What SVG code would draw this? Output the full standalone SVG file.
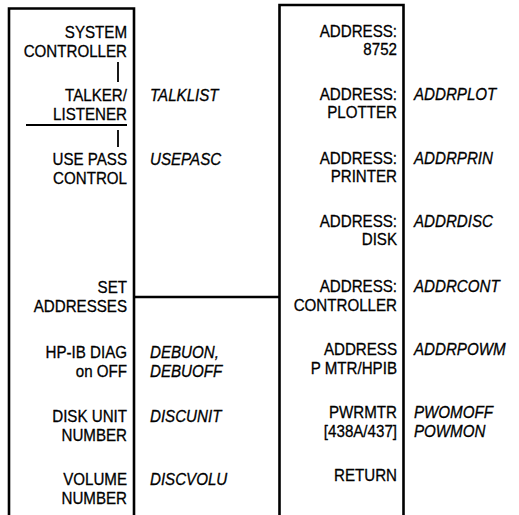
<svg xmlns="http://www.w3.org/2000/svg" width="519" height="515" viewBox="0 0 519 515">
<style>
.t{font-family:"Liberation Sans",Arial,sans-serif;font-size:17px;fill:#000;stroke:#000;stroke-width:0.3;text-anchor:end}
.i{font-family:"Liberation Sans",Arial,sans-serif;font-size:17px;font-style:italic;fill:#000;stroke:#000;stroke-width:0.3}
.frame{fill:none;stroke:#000;stroke-width:2.6}
.c{fill:none;stroke:#000;stroke-width:2.6}
.thin{fill:none;stroke:#000;stroke-width:1.8}
</style>
<rect width="519" height="515" fill="#fff"/>
<g id="left-menu">
<path class="frame" d="M9,515 V8.5 H134 V515"/>
<g id="system-controller" transform="translate(127,0) scale(0.89,1)"><text class="t" x="0" y="38">SYSTEM</text><text class="t" x="0" y="57">CONTROLLER</text></g>
<g id="talker-listener" transform="translate(127,0) scale(0.89,1)"><text class="t" x="0" y="101">TALKER/</text><text class="t" x="0" y="120">LISTENER</text></g>
<g id="use-pass-control" transform="translate(127,0) scale(0.89,1)"><text class="t" x="0" y="165">USE PASS</text><text class="t" x="0" y="184">CONTROL</text></g>
<g id="set-addresses" transform="translate(127,0) scale(0.89,1)"><text class="t" x="0" y="293">SET</text><text class="t" x="0" y="312">ADDRESSES</text></g>
<g id="hpib-diag" transform="translate(127,0) scale(0.89,1)"><text class="t" x="0" y="358">HP-IB DIAG</text><text class="t" x="0" y="377">on OFF</text></g>
<g id="disk-unit" transform="translate(127,0) scale(0.89,1)"><text class="t" x="0" y="422">DISK UNIT</text><text class="t" x="0" y="441">NUMBER</text></g>
<g id="volume-number" transform="translate(127,0) scale(0.89,1)"><text class="t" x="0" y="485">VOLUME</text><text class="t" x="0" y="504">NUMBER</text></g>
</g>
<g id="left-labels" transform="translate(150,0) scale(0.89,1)">
<text class="i" x="0" y="101">TALKLIST</text>
<text class="i" x="0" y="165">USEPASC</text>
<text class="i" x="0" y="358">DEBUON,</text>
<text class="i" x="0" y="377">DEBUOFF</text>
<text class="i" x="0" y="422">DISCUNIT</text>
<text class="i" x="0" y="485">DISCVOLU</text>
</g>
<g id="right-menu">
<path class="frame" d="M279.5,515 V5 H403.5 V515"/>
<g id="address-8752" transform="translate(397,0) scale(0.89,1)"><text class="t" x="0" y="37">ADDRESS:</text><text class="t" x="0" y="55">8752</text></g>
<g id="address-plotter" transform="translate(397,0) scale(0.89,1)"><text class="t" x="0" y="100">ADDRESS:</text><text class="t" x="0" y="118">PLOTTER</text></g>
<g id="address-printer" transform="translate(397,0) scale(0.89,1)"><text class="t" x="0" y="164">ADDRESS:</text><text class="t" x="0" y="182">PRINTER</text></g>
<g id="address-disk" transform="translate(397,0) scale(0.89,1)"><text class="t" x="0" y="227">ADDRESS:</text><text class="t" x="0" y="245">DISK</text></g>
<g id="address-controller" transform="translate(397,0) scale(0.89,1)"><text class="t" x="0" y="292">ADDRESS:</text><text class="t" x="0" y="311">CONTROLLER</text></g>
<g id="address-pmtr" transform="translate(397,0) scale(0.89,1)"><text class="t" x="0" y="355">ADDRESS</text><text class="t" x="0" y="374">P MTR/HPIB</text></g>
<g id="pwrmtr" transform="translate(397,0) scale(0.89,1)"><text class="t" x="0" y="418">PWRMTR</text><text class="t" x="0" y="437">[438A/437]</text></g>
<g id="return" transform="translate(397,0) scale(0.89,1)"><text class="t" x="0" y="481">RETURN</text></g>
</g>
<g id="right-labels" transform="translate(414,0) scale(0.89,1)">
<text class="i" x="0" y="100">ADDRPLOT</text>
<text class="i" x="0" y="164">ADDRPRIN</text>
<text class="i" x="0" y="227">ADDRDISC</text>
<text class="i" x="0" y="292">ADDRCONT</text>
<text class="i" x="0" y="355">ADDRPOWM</text>
<text class="i" x="0" y="418">PWOMOFF</text>
<text class="i" x="0" y="437">POWMON</text>
</g>
<g id="connectors">
<line class="thin" x1="118" y1="62" x2="118" y2="82"/>
<line class="thin" x1="26" y1="125" x2="127" y2="125"/>
<line class="thin" x1="118" y1="130" x2="118" y2="147"/>
<line class="c" x1="134" y1="297" x2="279" y2="297"/>
</g>
</svg>
